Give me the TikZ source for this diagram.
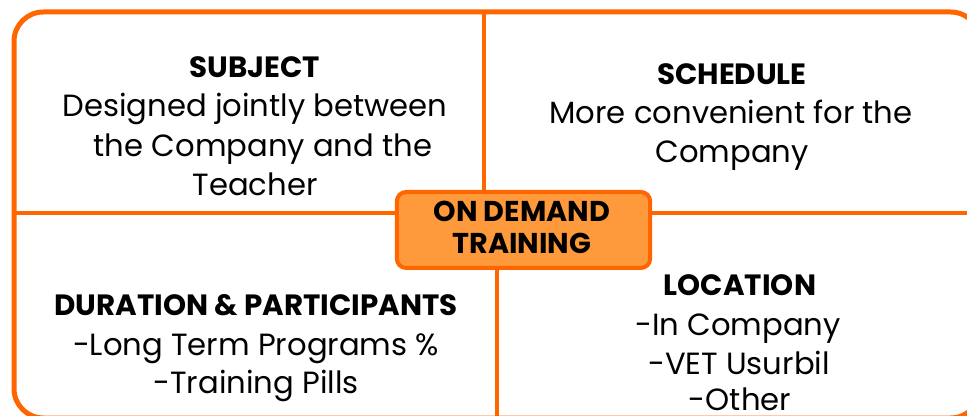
\documentclass[tikz,border=0pt]{standalone}
\usepackage{fontspec}
\setmainfont{Poppins}
\definecolor{edge}{HTML}{FF6600}
\definecolor{core}{HTML}{FF9A3C}
\tikzset{
  frame/.style={draw=edge, line width=3.75pt},
  divider/.style={draw=edge, line width=3.5pt},
  corebox/.style={draw=edge, fill=core, line width=3pt, rounded corners=7pt,
    minimum width=190pt, minimum height=57pt, inner sep=0pt},
  body/.style={anchor=base, inner sep=0pt, font=\fontsize{23}{28}\selectfont},
  head/.style={anchor=base, inner sep=0pt, font=\fontsize{22}{28}\selectfont\bfseries},
  corefont/.style={font=\fontsize{21.5}{26}\selectfont\bfseries}
}
\begin{document}
\begin{tikzpicture}[x=0.75pt, y=-0.75pt]
\useasboundingbox (0,0) rectangle (967,416);
\clip (0,0) rectangle (967,416);
\fill[white] (0,0) rectangle (967,416);
% outer frame
\draw[frame, rounded corners=22pt] (14,12) rectangle (980,418);
% centre box
\node[corebox] (core) at (523.5,230) {};
\node[anchor=base, inner sep=0pt, corefont] (l1) at (522,222) {ON DEMAND};
\node[anchor=base, inner sep=0pt, corefont] (l2) at (522,254) {TRAINING};
% dividers
\coordinate (ttop) at (484,12);
\coordinate (bbot) at (497,418);
\coordinate (lleft) at (14,213);
\coordinate (rright) at (980,213);
\draw[divider] (ttop) -- (ttop |- core.north);
\draw[divider] (bbot) -- (bbot |- core.south);
\draw[divider] (lleft) -- (lleft -| core.west);
\draw[divider] (rright) -- (rright -| core.east);
% top-left
\node[head] (s0) at (255,78) {SUBJECT};
\node[body] (s1) at (255,117) {Designed jointly between};
\node[body] (s2) at (263,157) {the Company and the};
\node[body] (s3) at (255,196) {Teacher};
% top-right
\node[head] (h0) at (732,85) {SCHEDULE};
\node[body] (h1) at (731,124) {More convenient for the};
\node[body] (h2) at (732,163) {Company};
% bottom-left
\node[head] (d0) at (256,316) {DURATION \& PARTICIPANTS};
\node[body] (d1) at (256,356) {-Long Term Programs \%};
\node[body] (d2) at (256,393) {-Training Pills};
% bottom-right
\node[head] (c0) at (740,296) {LOCATION};
\node[body] (c1) at (738,336) {-In Company};
\node[body] (c2) at (739,374) {-VET Usurbil};
\node[body] (c3) at (740,411) {-Other};
\end{tikzpicture}
\end{document}
